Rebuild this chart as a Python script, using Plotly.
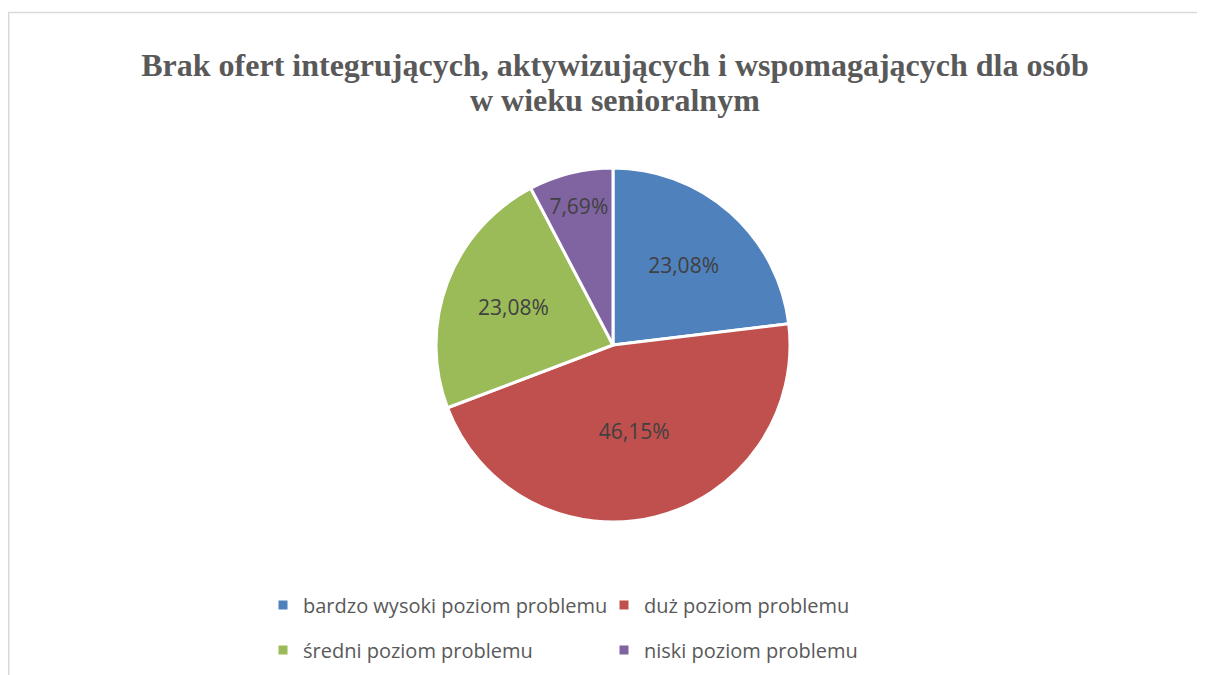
import plotly.graph_objects as go

title_lines = ["Brak ofert integrujących, aktywizujących i wspomagających dla osób",
               "w wieku senioralnym"]
categories = ["bardzo wysoki poziom problemu", "duż poziom problemu",
              "średni poziom problemu", "niski poziom problemu"]
values = [23.08, 46.15, 23.08, 7.69]
colors = ["#4F81BD", "#C0504D", "#9BBB59", "#8064A2"]
legend_rows = ["legend", "legend", "legend2", "legend2"]

# The page body adds an 8 px margin; figure extends to the window edges.
OFF = 8
W, H = 1205 - OFF, 675 - OFF


def fx(x):
    return (x - OFF) / W


def fy(y):
    return 1 - (y - OFF) / H


fig = go.Figure()
fig.add_trace(go.Pie(
    labels=categories, values=values, sort=False, direction="clockwise",
    marker=dict(colors=colors, line=dict(color="white", width=3)),
    texttemplate="%{value:.2f}%", textposition="inside",
    insidetextorientation="horizontal",
    textfont=dict(family="Open Sans", size=21, color="#404040"),
    domain=dict(x=[fx(436), fx(790)], y=[fy(522), fy(168)]),
    showlegend=False, hoverinfo="label+percent",
))

for cat, col, lg in zip(categories, colors, legend_rows):
    fig.add_trace(go.Scatter(
        x=[None], y=[None], mode="markers", name=cat, legend=lg,
        marker=dict(symbol="square", size=9, color=col), showlegend=True,
    ))

legend_common = dict(orientation="h", xanchor="left", yanchor="middle",
                     entrywidth=296, itemwidth=30,
                     font=dict(family="Open Sans", size=20, color="#595959"),
                     bgcolor="rgba(0,0,0,0)")

title_font = dict(family="Liberation Serif", size=32, color="#595959")

fig.update_layout(
    width=W, height=H,
    margin=dict(l=0, r=0, t=0, b=0),
    paper_bgcolor="white", plot_bgcolor="white",
    separators=", ",
    title=dict(text="<b>" + title_lines[0] + "</b>",
               x=fx(615), xanchor="center", y=fy(65), yanchor="middle",
               font=title_font),
    annotations=[dict(text="<b>" + title_lines[1] + "</b>", xref="paper", yref="paper",
                      x=fx(615), xanchor="center", y=fy(100), yanchor="middle",
                      showarrow=False, font=title_font)],
    xaxis=dict(visible=False), yaxis=dict(visible=False),
    legend=dict(x=fx(263), y=fy(605), **legend_common),
    legend2=dict(x=fx(263), y=fy(650), **legend_common),
    shapes=[dict(type="rect", xref="paper", yref="paper",
                 x0=fx(8.75), x1=1.05, y0=-0.05, y1=fy(12.5),
                 line=dict(color="#D9D9D9", width=1.5), fillcolor="rgba(0,0,0,0)",
                 layer="below")],
)

fig.write_html("out.html")
